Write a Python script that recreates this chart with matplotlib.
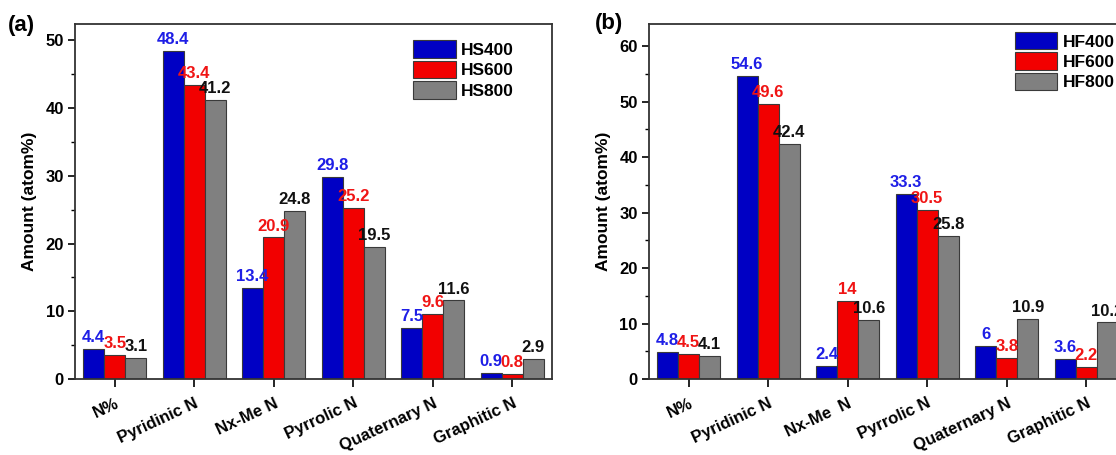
import matplotlib
matplotlib.use("Agg")
import matplotlib.pyplot as plt
import matplotlib.transforms as mtransforms
import numpy as np
from matplotlib.ticker import MultipleLocator

plt.rcParams['font.family'] = ['Liberation Sans', 'DejaVu Sans']
plt.rcParams['font.weight'] = 'bold'

cats_a = ["N%", "Pyridinic N", "Nx-Me N", "Pyrrolic N", "Quaternary N", "Graphitic N"]
cats_b = ["N%", "Pyridinic N", "Nx-Me  N", "Pyrrolic N", "Quaternary N", "Graphitic N"]

series_a = ["HS400", "HS600", "HS800"]
hs400 = [4.4, 48.4, 13.4, 29.8, 7.5, 0.9]
hs600 = [3.5, 43.4, 20.9, 25.2, 9.6, 0.8]
hs800 = [3.1, 41.2, 24.8, 19.5, 11.6, 2.9]

series_b = ["HF400", "HF600", "HF800"]
hf400 = [4.8, 54.6, 2.4, 33.3, 6, 3.6]
hf600 = [4.5, 49.6, 14, 30.5, 3.8, 2.2]
hf800 = [4.1, 42.4, 10.6, 25.8, 10.9, 10.2]

bar_colors = ["#0000C4", "#F20000", "#808080"]
text_colors = ["#1E1EE6", "#F01414", "#111111"]

fig = plt.figure(figsize=(11.16, 4.55), dpi=100)
ax1 = fig.add_axes([0.0672, 0.167, 0.4274, 0.780])
ax2 = fig.add_axes([0.5815, 0.167, 0.4274, 0.780])

def draw(ax, cats, names, data, ymax, major, leg_anchor):
    x = np.arange(len(cats))
    w = 0.265
    handles = []
    for i, (name, vals) in enumerate(zip(names, data)):
        bars = ax.bar(x + (i - 1) * w, vals, w, color=bar_colors[i],
                      edgecolor="#3a3a3a", linewidth=0.8, label=name, zorder=2)
        handles.append(bars)
        for xi, v in zip(x + (i - 1) * w, vals):
            ax.annotate(f"{v:g}", (xi, v), xytext=(0, 5), textcoords="offset points",
                        ha="center", va="baseline", fontsize=12, fontweight="bold",
                        color=text_colors[i])
    ax.set_xlim(-0.5, len(cats) - 0.5)
    ax.set_ylim(0, ymax)
    ax.yaxis.set_major_locator(MultipleLocator(major))
    ax.yaxis.set_minor_locator(MultipleLocator(major / 2))
    ax.set_xticks(x)
    ax.set_xticklabels(cats, rotation=25, ha="right", va="top",
                       rotation_mode="anchor", fontsize=12, fontweight="bold")
    shift = mtransforms.ScaledTranslation(5 / 100, -8 / 100, fig.dpi_scale_trans)
    for lab in ax.get_xticklabels():
        lab.set_transform(lab.get_transform() + shift)
    ax.tick_params(axis="y", which="major", length=5, width=1.2, labelsize=12, direction="out", pad=3)
    ax.tick_params(axis="y", which="minor", length=3, width=1.0, direction="out")
    ax.tick_params(axis="x", which="major", length=6, width=1.2, direction="out", pad=6)
    for lab in ax.get_yticklabels():
        lab.set_fontweight("bold")
    for s in ax.spines.values():
        s.set_linewidth(1.3)
        s.set_color("#333333")
    ax.set_ylabel("Amount (atom%)", fontsize=12.5, fontweight="bold", labelpad=6)
    ax.legend(handles=handles, loc="upper left", bbox_to_anchor=leg_anchor,
              frameon=False, handlelength=2.45, handleheight=1.18,
              labelspacing=0.16, handletextpad=0.3, borderpad=0, borderaxespad=0,
              prop={"weight": "bold", "size": 12.5})

draw(ax1, cats_a, series_a, [hs400, hs600, hs800], 52.4, 10, (0.709, 0.955))
draw(ax2, cats_b, series_b, [hf400, hf600, hf800], 64, 10, (0.767, 0.978))

fig.text(8 / 1116, 1 - 25 / 455, "(a)", fontsize=16, fontweight="bold", ha="left", va="center")
fig.text(595 / 1116, 1 - 24 / 455, "(b)", fontsize=16, fontweight="bold", ha="left", va="center")

fig.savefig("out.png", dpi=100)
